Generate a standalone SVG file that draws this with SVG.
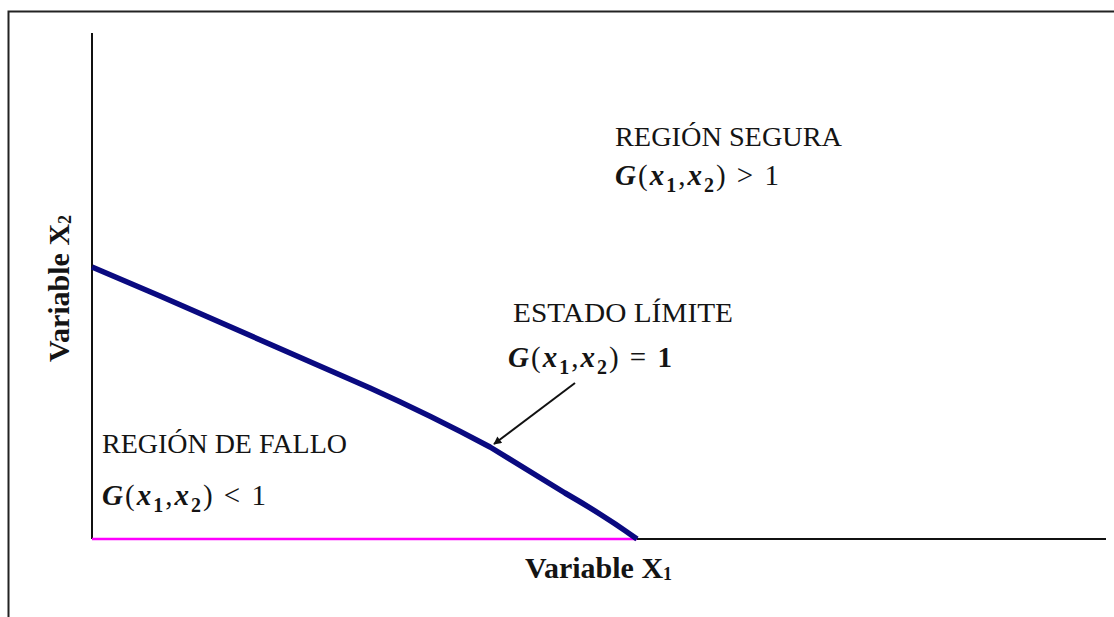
<svg xmlns="http://www.w3.org/2000/svg" width="1114" height="617" viewBox="0 0 1114 617">
<defs>
<style>
.lbl{font-family:"Liberation Serif","Times New Roman",serif;font-size:28px;fill:#141414}
.axl{font-family:"Liberation Serif","Times New Roman",serif;font-size:30px;font-weight:bold;fill:#141414}
.math{font-family:"Liberation Serif","Times New Roman",serif;font-size:29px;letter-spacing:2px;fill:#141414}
.bi{font-weight:bold;font-style:italic}
.sub{font-size:20px;font-weight:bold}
.frame{stroke:#222;stroke-width:2;fill:none}
.axis{stroke:#111;stroke-width:2;fill:none}
</style>
<marker id="ah" viewBox="0 0 10 10" refX="9" refY="5" markerWidth="9" markerHeight="8" markerUnits="userSpaceOnUse" orient="auto">
<path d="M0,0 L10,5 L0,10 z" fill="#111"/>
</marker>
</defs>
<rect width="1114" height="617" fill="#fff"/>
<g id="frame">
<polyline class="frame" points="8.5,617 8.5,11.5 1114,11.5"/>
</g>
<g id="axes">
<line class="axis" x1="92" y1="33" x2="92" y2="539"/>
<line class="axis" x1="92" y1="539" x2="1106" y2="539"/>
<line x1="92" y1="539" x2="637" y2="539" stroke="#ff00ff" stroke-width="2.5"/>
</g>
<g id="limit-curve">
<path d="M92,267 L160,296 L370,388 Q430,415 490,447 L565,493 Q605,516 637,539" fill="none" stroke="#0a0a80" stroke-width="5.5" stroke-linejoin="round"/>
</g>
<g id="connectors">
<line x1="575" y1="383" x2="494" y2="444" stroke="#111" stroke-width="2" marker-end="url(#ah)"/>
</g>
<g id="safe-region">
<text class="lbl" x="615" y="146" textLength="227" lengthAdjust="spacingAndGlyphs">REGIÓN SEGURA</text>
<text class="math" x="615" y="185"><tspan class="bi">G</tspan>(<tspan class="bi">x</tspan><tspan class="sub" dy="7">1</tspan><tspan dy="-7">,</tspan><tspan class="bi">x</tspan><tspan class="sub" dy="7">2</tspan><tspan dy="-7">) &gt; 1</tspan></text>
</g>
<g id="limit-state">
<text class="lbl" x="513" y="322" textLength="220" lengthAdjust="spacingAndGlyphs">ESTADO LÍMITE</text>
<text class="math" x="508" y="367"><tspan class="bi">G</tspan>(<tspan class="bi">x</tspan><tspan class="sub" dy="7">1</tspan><tspan dy="-7">,</tspan><tspan class="bi">x</tspan><tspan class="sub" dy="7">2</tspan><tspan dy="-7">)  =  </tspan><tspan font-weight="bold">1</tspan></text>
</g>
<g id="failure-region">
<text class="lbl" x="102" y="453" textLength="245" lengthAdjust="spacingAndGlyphs">REGIÓN DE FALLO</text>
<text class="math" x="102" y="505"><tspan class="bi">G</tspan>(<tspan class="bi">x</tspan><tspan class="sub" dy="7">1</tspan><tspan dy="-7">,</tspan><tspan class="bi">x</tspan><tspan class="sub" dy="7">2</tspan><tspan dy="-7">) &lt; 1</tspan></text>
</g>
<g id="x-label">
<text class="axl" x="525" y="578">Variable X<tspan font-size="18" dy="2">1</tspan></text>
</g>
<g id="y-label">
<text class="axl" transform="translate(69,362) rotate(-90)" x="0" y="0">Variable X<tspan font-size="18" dy="2">2</tspan></text>
</g>
</svg>
